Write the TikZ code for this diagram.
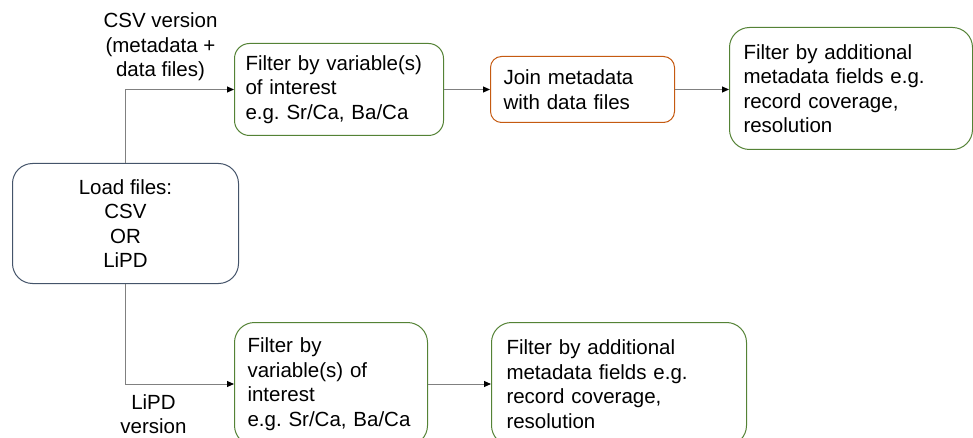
\documentclass[tikz,border=0pt]{standalone}
\usepackage{fontspec}
\setmainfont{Liberation Sans}
\usetikzlibrary{arrows.meta,positioning}
\definecolor{boxgreen}{HTML}{548235}
\definecolor{boxorange}{HTML}{C55A11}
\definecolor{boxblue}{HTML}{44546A}
\definecolor{linegray}{HTML}{808080}
\frenchspacing
\tikzset{
  txt/.style={font=\fontsize{20.5}{24.5}\selectfont},
  box/.style={txt, draw, line width=1pt, fill=white, align=left, anchor=north west, inner ysep=0pt},
  conn/.style={draw=linegray, line width=1pt, -{Triangle[length=7pt,width=6pt,color=black]}},
  lbl/.style={txt, align=center, inner sep=0pt},
}
\begin{document}
\begin{tikzpicture}[x=1pt,y=-1pt]
\useasboundingbox (0,0) rectangle (973,438);
\clip (0,0) rectangle (973,438);
% boxes
\node[box, draw=boxblue, rounded corners=20pt, align=center, minimum width=226pt, minimum height=120pt, inner xsep=0pt] (load) at (12,163) {Load files:\\CSV\\OR\\LiPD};
\node[box, draw=boxgreen, rounded corners=15pt, minimum width=209pt, minimum height=92pt, inner xsep=11pt, text width=187pt] (f1) at (234,43) {Filter by variable(s)\\of interest\\e.g. Sr/Ca, Ba/Ca};
\node[box, draw=boxorange, rounded corners=11pt, minimum width=184pt, minimum height=66pt, inner xsep=13pt, text width=158pt] (join) at (490,56) {Join metadata\\with data files};
\node[box, draw=boxgreen, rounded corners=20pt, minimum width=243pt, minimum height=122pt, inner xsep=14pt, text width=215pt] (r1) at (729,27) {Filter by additional\\metadata fields e.g.\\record coverage,\\resolution};
\node[box, draw=boxgreen, rounded corners=20pt, minimum width=193pt, minimum height=123pt, inner xsep=13pt, text width=167pt] (f2) at (234,322) {Filter by\\variable(s) of\\interest\\e.g. Sr/Ca, Ba/Ca};
\node[box, draw=boxgreen, rounded corners=20pt, minimum width=255pt, minimum height=123pt, inner xsep=15pt, text width=225pt] (r2) at (491,322) {Filter by additional\\metadata fields e.g.\\record coverage,\\resolution};
% labels
\node[lbl] (csvlbl) at (160.5,47) {CSV version\\(metadata +\\data files)};
\node[lbl] (lipdlbl) at (153.5,414) {LiPD\\version};
% connectors
\draw[conn] (load.north) |- (f1.west);
\draw[conn] (load.south) |- (f2.west);
\draw[conn] (f1.east) -- (join.west);
\draw[conn] (join.east) -- (join.east -| r1.west);
\draw[conn] (f2.east) -- (r2.west);
\end{tikzpicture}
\end{document}
